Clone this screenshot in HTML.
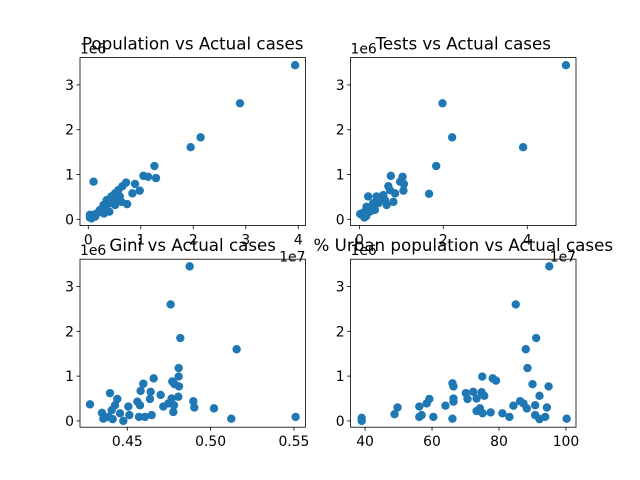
<!DOCTYPE html>
<html><head><meta charset="utf-8"><style>
html,body{margin:0;padding:0;background:#fff}
svg{display:block;font-family:"DejaVu Sans","Liberation Sans",sans-serif}
</style></head><body>
<svg id="fig" width="640" height="480" viewBox="0 0 640 480" xmlns="http://www.w3.org/2000/svg"></svg>
<script>
const yTicks=[0,1,2,3];
const popX=[3.94,2.89,2.14,1.95,1.26,1.29,1.05,1.14,0.10,0.72,0.89,0.65,0.98,0.84,0.74,0.60,0.51,0.57,0.41,0.35,0.29,0.40,0.30,0.22,0.16,0.10,0.03,0.06,0.13,0.19,0.54,0.63,0.44,0.32,0.25,0.03,0.51];
const popY=[3.44,2.59,1.83,1.61,1.19,0.92,0.97,0.95,0.84,0.82,0.79,0.74,0.64,0.58,0.34,0.51,0.58,0.65,0.36,0.43,0.32,0.17,0.13,0.21,0.13,0.10,0.04,0.02,0.06,0.15,0.43,0.39,0.51,0.25,0.17,0.10,0.32];
const testX=[4.92,1.98,2.21,3.90,1.83,1.66,0.75,1.03,1.06,1.05,0.69,0.21,0.85,0.81,0.65,0.49,0.37,0.33,0.17,0.10,0.06,0.12,0.02,0.25,0.41,0.57,0.73,0.61,0.45,0.21,0.16,0.29,0.97];
const testY=[3.44,2.59,1.83,1.61,1.19,0.57,0.97,0.95,0.79,0.64,0.74,0.51,0.58,0.39,0.32,0.43,0.21,0.36,0.28,0.15,0.10,0.04,0.12,0.17,0.51,0.54,0.65,0.43,0.36,0.25,0.07,0.28,0.84];
const giniX=[0.4874,0.476,0.4818,0.5156,0.4808,0.4808,0.4658,0.4596,0.477,0.4784,0.481,0.458,0.464,0.4636,0.470,0.4396,0.444,0.4426,0.4406,0.4276,0.4348,0.4356,0.4386,0.4412,0.4476,0.4506,0.4512,0.456,0.4576,0.457,0.4606,0.4646,0.4716,0.4746,0.4766,0.4776,0.4806,0.4896,0.4902,0.502,0.5124,0.551,0.478,0.4456];
const giniY=[3.45,2.60,1.85,1.60,1.18,0.99,0.95,0.83,0.88,0.82,0.77,0.67,0.65,0.49,0.58,0.62,0.49,0.35,0.24,0.37,0.18,0.05,0.09,0.04,0.0,0.32,0.13,0.43,0.35,0.09,0.09,0.13,0.32,0.39,0.50,0.20,0.54,0.44,0.30,0.28,0.05,0.09,0.35,0.17];
const urbX=[95.0,85.0,91.1,88.0,88.5,75.0,78.1,79.1,90.0,94.8,66.1,66.4,70.1,72.3,74.8,75.6,70.6,73.3,66.4,66.4,59.2,58.4,56.2,49.7,48.8,64.0,56.2,56.9,60.4,66.1,39.0,39.0,73.3,74.3,75.1,77.5,81.0,83.1,84.3,86.3,87.3,88.3,90.8,92.1,90.8,92.1,93.8,94.3,100.2];
const urbY=[3.45,2.60,1.85,1.60,1.18,0.99,0.95,0.90,0.82,0.77,0.84,0.77,0.62,0.65,0.64,0.56,0.49,0.50,0.50,0.43,0.49,0.39,0.32,0.30,0.15,0.34,0.09,0.13,0.09,0.05,0.07,0.0,0.22,0.28,0.17,0.19,0.17,0.09,0.34,0.44,0.39,0.28,0.35,0.56,0.13,0.04,0.09,0.30,0.05];
const tlTicks=[0,1,2,3,4], trTicks=[0,2,4], blTicks=[0.45,0.50,0.55], brTicks=[40,60,80,100];
const blLabels=["0.45","0.50","0.55"];

const NS="http://www.w3.org/2000/svg", svg=document.getElementById('fig');
function mk(t,a,p){const e=document.createElementNS(NS,t);for(const k in a)e.setAttribute(k,a[k]);(p||svg).appendChild(e);return e;}
function panel(name,L,T,W,H,xmin,xmax,ymin,ymax,xs,ys,xt,xl,title,xoff){
  const g=mk('g',{});
  
  
  const sx=v=>L+(v-xmin)/(xmax-xmin)*W, sy=v=>T+H-(v-ymin)/(ymax-ymin)*H;
  for(let i=0;i<xs.length;i++){
    const c=mk('circle',{cx:sx(xs[i]),cy:sy(ys[i]),r:4.2,fill:'#1f77b4'},g);
    
    
  }
  const f=mk('rect',{x:L,y:T,width:W,height:H,fill:'none',stroke:'#000','stroke-width':0.8},g);
  
  
  yTicks.forEach(v=>{const y=sy(v);mk('line',{x1:L,x2:L-3.5,y1:y,y2:y,stroke:'#000','stroke-width':0.8},g);
    const t=mk('text',{x:L-6,y:y+5,'text-anchor':'end','font-size':13.9},g);t.textContent=v;
    
    });
  xt.forEach((v,i)=>{const x=sx(v);mk('line',{x1:x,x2:x,y1:T+H,y2:T+H+3.5,stroke:'#000','stroke-width':0.8},g);
    const t=mk('text',{x:x,y:T+H+19,'text-anchor':'middle','font-size':13.9},g);t.textContent=xl?xl[i]:v;
    
    });
  const o=mk('text',{x:L,y:T-4,'font-size':13.9},g);o.textContent='1e6';
  
  
  if(xoff){const o2=mk('text',{x:L+W,y:T+H+36,'text-anchor':'end','font-size':13.9},g);o2.textContent=xoff;
    
    }
  const tt=mk('text',{x:L+W/2,y:T-8,'text-anchor':'middle','font-size':16.7},g);tt.textContent=title;
  
  
}
const W=225.45,H=168;
panel('population',80,57.6,W,H,-0.158,4.137,-0.14,3.61,popX,popY,tlTicks,null,'Population vs Actual cases','1e7');
panel('tests',350.55,57.6,W,H,-0.21,5.16,-0.14,3.61,testX,testY,trTicks,null,'Tests vs Actual cases','1e7');
panel('gini',80,259.2,W,H,0.4216,0.5569,-0.14,3.61,giniX,giniY,blTicks,blLabels,'Gini vs Actual cases',null);
panel('urban',350.55,259.2,W,H,35.67,102.99,-0.14,3.61,urbX,urbY,brTicks,null,'% Urban population vs Actual cases',null);
</script>
</body></html>
